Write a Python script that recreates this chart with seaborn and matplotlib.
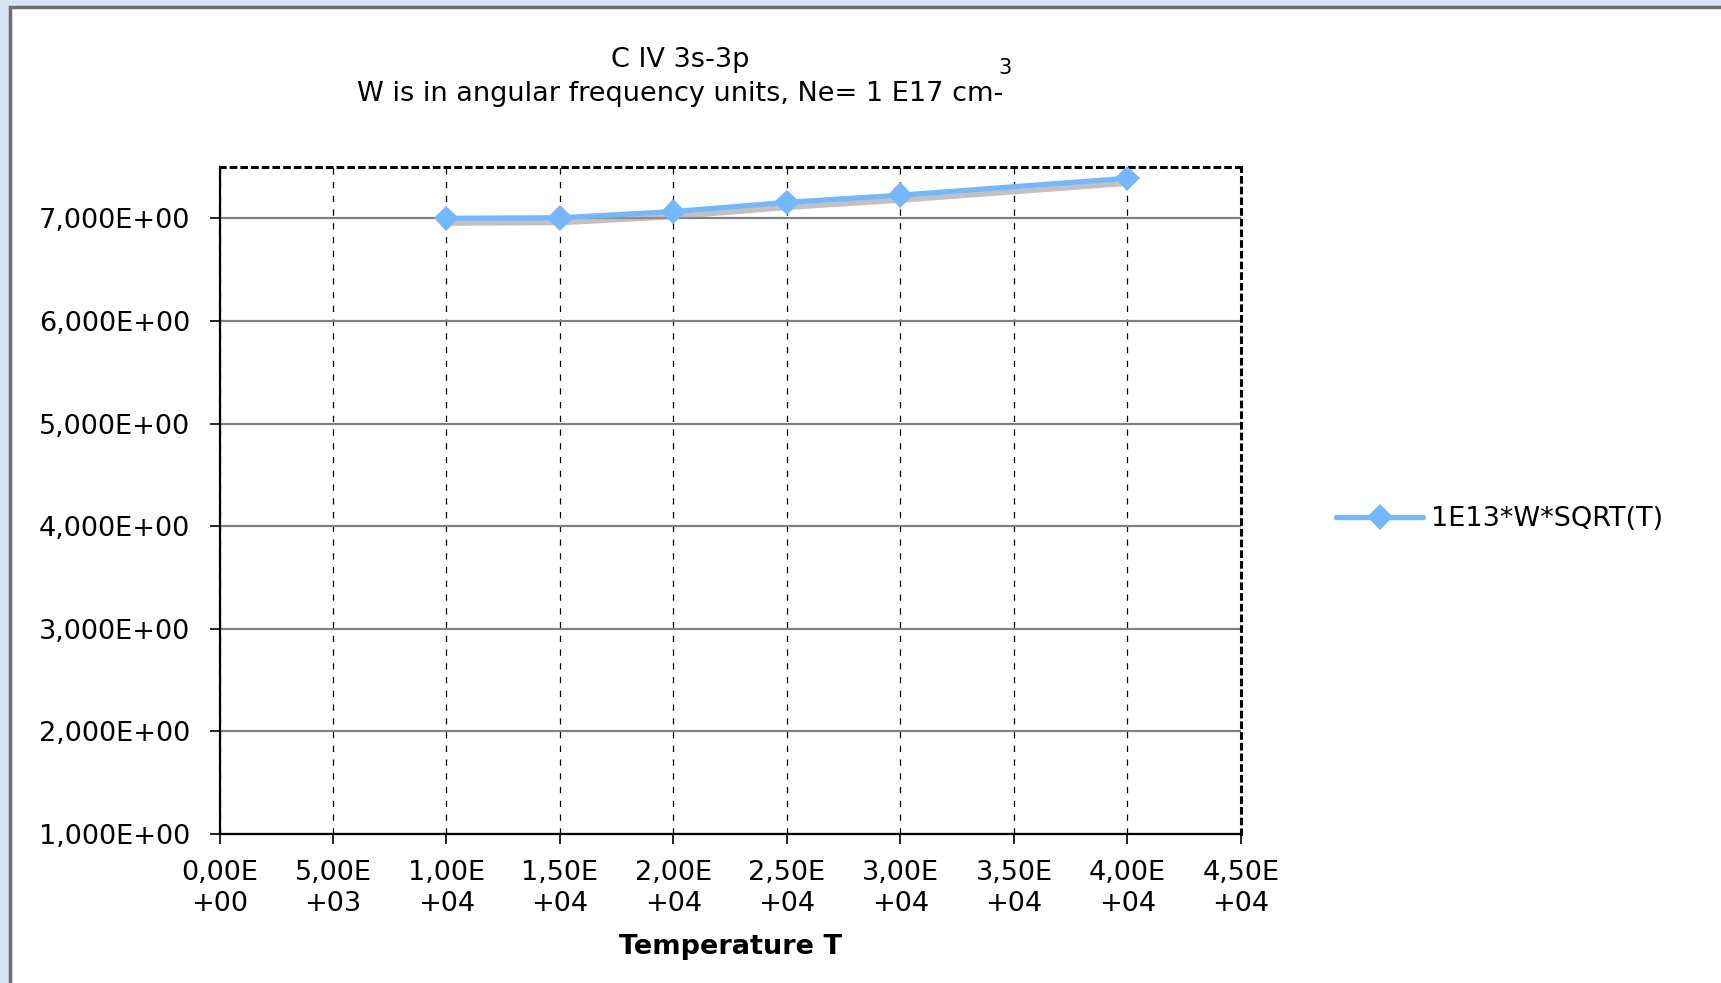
import matplotlib
matplotlib.use("Agg")
import matplotlib.pyplot as plt
import matplotlib.patheffects as pe
from matplotlib.patches import Rectangle
import pandas as pd
import seaborn as sns

# values
temperature = [10000, 15000, 20000, 25000, 30000, 40000]
w_sqrt_t = [7.00, 7.005, 7.065, 7.155, 7.225, 7.39]
series_name = "1E13*W*SQRT(T)"

x_ticks = [0, 5000, 10000, 15000, 20000, 25000, 30000, 35000, 40000, 45000]
y_ticks = [1, 2, 3, 4, 5, 6, 7]

x_labels = [("%.2E" % v).replace(".", ",").replace("E", "E\n") for v in x_ticks]
y_labels = [("%.3f" % v).replace(".", ",") + "E+00" for v in y_ticks]

df = pd.DataFrame({"T": temperature, "val": w_sqrt_t})

sns.set_style("white")
plt.rcParams["font.family"] = ["DejaVu Sans"]
plt.rcParams["text.color"] = "black"
plt.rcParams["xtick.color"] = "black"
plt.rcParams["ytick.color"] = "black"
plt.rcParams["axes.labelcolor"] = "black"

FS = 19.5
W, H = 1721, 983
fig = plt.figure(figsize=(W / 100, H / 100), dpi=100)
fig.patch.set_facecolor("#d6e4f3")

# white chart area with grey edge on left/top
fig.patches.append(Rectangle((10 / W, -0.01), 1.0, 1 - 7 / H + 0.01, transform=fig.transFigure,
                             facecolor="white", edgecolor="#6e6e6e", linewidth=2.5, zorder=-5))

ax = fig.add_axes([219.5 / W, 1 - 834 / H, (1241 - 219.5) / W, (834 - 167) / H])
ax.set_zorder(2)
ax.set_facecolor("white")

sns.lineplot(data=df, x="T", y="val", ax=ax, color="#74b7fc", linewidth=3.8,
             marker="D", markersize=13, markeredgewidth=0, label=series_name, zorder=5)
ax.lines[0].set_path_effects([
    pe.SimpleLineShadow(offset=(1.5, -3.5), shadow_color="#999999", alpha=0.6),
    pe.Normal(),
])

ax.set_xlim(0, 45000)
ax.set_ylim(1, 7.5)
ax.set_xticks(x_ticks)
ax.set_xticklabels(x_labels, fontsize=FS, linespacing=1.25)
ax.set_yticks(y_ticks)
ax.set_yticklabels(y_labels, fontsize=FS)
ax.tick_params(axis="both", direction="out", length=7, width=1.2, color="black",
               bottom=True, left=True, pad=12)
ax.tick_params(axis="y", pad=14)

ax.yaxis.grid(True, color="#808080", linewidth=1.6, linestyle="-")
ax.xaxis.grid(True, color="black", linewidth=0.9, linestyle=(0, (5, 6)))
ax.set_axisbelow(True)

for side in ["top", "right"]:
    ax.spines[side].set_linestyle((0, (1.5, 2)))
    ax.spines[side].set_linewidth(2.2)
    ax.spines[side].set_color("black")
ax.spines["left"].set_color("black")
ax.spines["left"].set_linewidth(1.6)
ax.spines["bottom"].set_color("black")
ax.spines["bottom"].set_linewidth(1.6)

ax.set_xlabel("Temperature T", fontsize=FS, fontweight="bold", labelpad=12)
ax.set_ylabel("")

leg = ax.legend(loc="center left", bbox_to_anchor=(1312 / W, 1 - 519 / H),
                bbox_transform=fig.transFigure, frameon=False, fontsize=FS,
                handlelength=3.2, handletextpad=0.3)
for h in leg.get_lines():
    h.set_path_effects([])

fig.text(680 / W, 1 - 60 / H, "C IV 3s-3p", ha="center", va="center", fontsize=FS)
line2 = fig.text(680 / W, 1 - 94 / H, "W is in angular frequency units, Ne= 1 E17 cm-",
                 ha="center", va="center", fontsize=FS)

# superscript placed just after the end of the second title line
fig.canvas.draw()
bb = line2.get_window_extent()
fig.text((bb.x1 + 2) / W, 1 - 68 / H, "3", ha="center", va="center", fontsize=15)

fig.savefig("out.png", dpi=100, facecolor=fig.get_facecolor())
